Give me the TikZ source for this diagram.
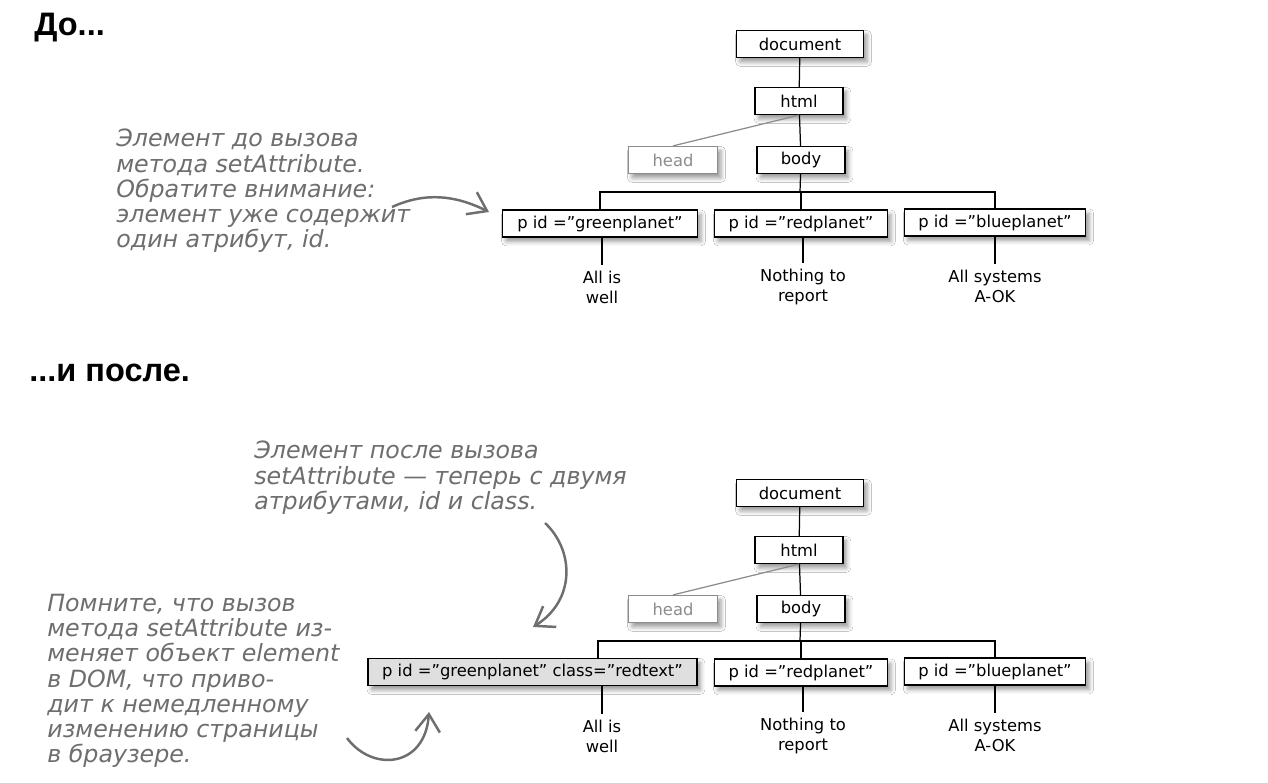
\documentclass[tikz,border=0pt]{standalone}
\usepackage{fontspec}
\setmainfont{DejaVu Sans}
\newfontfamily\headfont{Liberation Sans}
\newfontfamily\handfont{DejaVu Sans}
\usetikzlibrary{arrows.meta, shadows.blur}
\definecolor{pen}{HTML}{6E6E6E}
\definecolor{faint}{HTML}{8C8C8C}

\begin{document}
\begin{tikzpicture}[x=0.02cm, y=-0.02cm,
    elem/.style={draw, fill=white, line width=0.7pt, minimum height=0.54cm, inner ysep=0pt, inner xsep=8pt,
                 blur shadow={shadow xshift=2pt, shadow yshift=-2.5pt, shadow blur radius=2.5pt}},
    faded/.style={elem, draw=faint, text=faint},
    leaf/.style={align=center},
    note/.style={anchor=north west, align=left, inner sep=0pt, text=pen,
                 font=\handfont\itshape\fontsize{13.5}{14.3}\selectfont},
    heading/.style={anchor=west, inner sep=0pt, font=\headfont\bfseries\fontsize{18.5}{21}\selectfont},
    link/.style={line width=0.7pt},
    hint/.style={-{Straight Barb[length=10pt,width=14pt]}, draw=pen, line width=1.4pt},
    font=\fontsize{9.3}{11.3}\selectfont]

   \fill[white] (0,0) rectangle (1268,782);
   \useasboundingbox (0,0) rectangle (1268,782);

   % Headings
      \node[heading] (before)  at (34,28)   {До...};
      \node[heading] (after)   at (29,373)  {...и после.};

   % Nodes (before)
      \node[elem,minimum width=2.54cm]   (doc1)    at (800,44)     {document};
      \node[elem,minimum width=1.76cm]   (html1)   at (799,101)    {html};
      \node[faded,minimum width=1.78cm]  (head1)   at (673,160)    {head};
      \node[elem,minimum width=1.76cm]   (body1)   at (801,160)    {body};
      \node[elem,minimum width=3.9cm]    (green1)  at (600,223.5)  {p id =”greenplanet”};
      \node[elem,minimum width=3.42cm]   (red1)    at (801,223.5)  {p id =”redplanet”};
      \node[elem,minimum width=3.56cm]   (blue1)   at (995,222.5)  {p id =”blueplanet”};
      \node[leaf]                        (well1)   at (602,287)    {All is\\well};
      \node[leaf]                        (report1) at (803,287)    {Nothing to\\report};
      \node[leaf]                        (aok1)    at (995,286)    {All systems\\A-OK};
      \coordinate                        (bus1)    at (800,192);

   % Nodes (after)
      \node[elem,minimum width=2.54cm]   (doc2)    at (800,493)    {document};
      \node[elem,minimum width=1.76cm]   (html2)   at (799,550)    {html};
      \node[faded,minimum width=1.78cm]  (head2)   at (673,609)    {head};
      \node[elem,minimum width=1.76cm]   (body2)   at (801,609)    {body};
      \node[elem,minimum width=6.58cm,fill=gray!25] (green2) at (532.5,672) {p id =”greenplanet” class="redtext"};
      \node[elem,minimum width=3.42cm]   (red2)    at (801,672.5)  {p id =”redplanet”};
      \node[elem,minimum width=3.56cm]   (blue2)   at (995,671.5)  {p id =”blueplanet”};
      \node[leaf]                        (well2)   at (602,736)    {All is\\well};
      \node[leaf]                        (report2) at (803,736)    {Nothing to\\report};
      \node[leaf]                        (aok2)    at (995,735)    {All systems\\A-OK};
      \coordinate                        (bus2)    at (800,641);
      \coordinate                        (gdrop)   at (598,641);

   % Notes
      \node[note] (note1) at (116,129) {Элемент до вызова\\метода setAttribute.\\Обратите внимание:\\элемент уже содержит\\один атрибут, id.};
      \node[note] (note2) at (254,441) {Элемент после вызова\\setAttribute — теперь с двумя\\атрибутами, id и class.};
      \node[note] (note3) at (47,594)  {Помните, что вызов\\метода setAttribute из-\\меняет объект element\\в DOM, что приво-\\дит к немедленному\\изменению страницы\\в браузере.};

   % Paths (before)
      \path[link] (doc1) edge (html1)
                  (html1) edge (body1)
                  (body1) edge (bus1);
      \draw[link,draw=faint] (html1.south) -- (head1.north);
      \draw[link] (green1.north) |- (bus1) -| (blue1.north);
      \draw[link] (red1.north) -- (red1.north |- bus1);
      \draw[link] (well1.north) -- (well1.north |- green1.south);
      \draw[link] (report1.north) -- (report1.north |- red1.south);
      \draw[link] (aok1.north) -- (aok1.north |- blue1.south);

   % Paths (after)
      \path[link] (doc2) edge (html2)
                  (html2) edge (body2)
                  (body2) edge (bus2);
      \draw[link,draw=faint] (html2.south) -- (head2.north);
      \draw[link] (gdrop |- green2.north) -- (gdrop) -- (bus2) -| (blue2.north);
      \draw[link] (red2.north) -- (red2.north |- bus2);
      \draw[link] (well2.north) -- (well2.north |- green2.south);
      \draw[link] (report2.north) -- (report2.north |- red2.south);
      \draw[link] (aok2.north) -- (aok2.north |- blue2.south);

   % Hints
      \coordinate (tip1) at (489,212);
      \coordinate (tip2) at (533,627);
      \coordinate (tip3) at (429,712);
      \draw[hint] (392,207) .. controls (425,192) and (455,195) .. (tip1);
      \draw[hint] (545,523) .. controls (574,550) and (576,600) .. (tip2);
      \draw[hint] (347,738) .. controls (372,772) and (425,768) .. (tip3);
   \end{tikzpicture}
\end{document}
